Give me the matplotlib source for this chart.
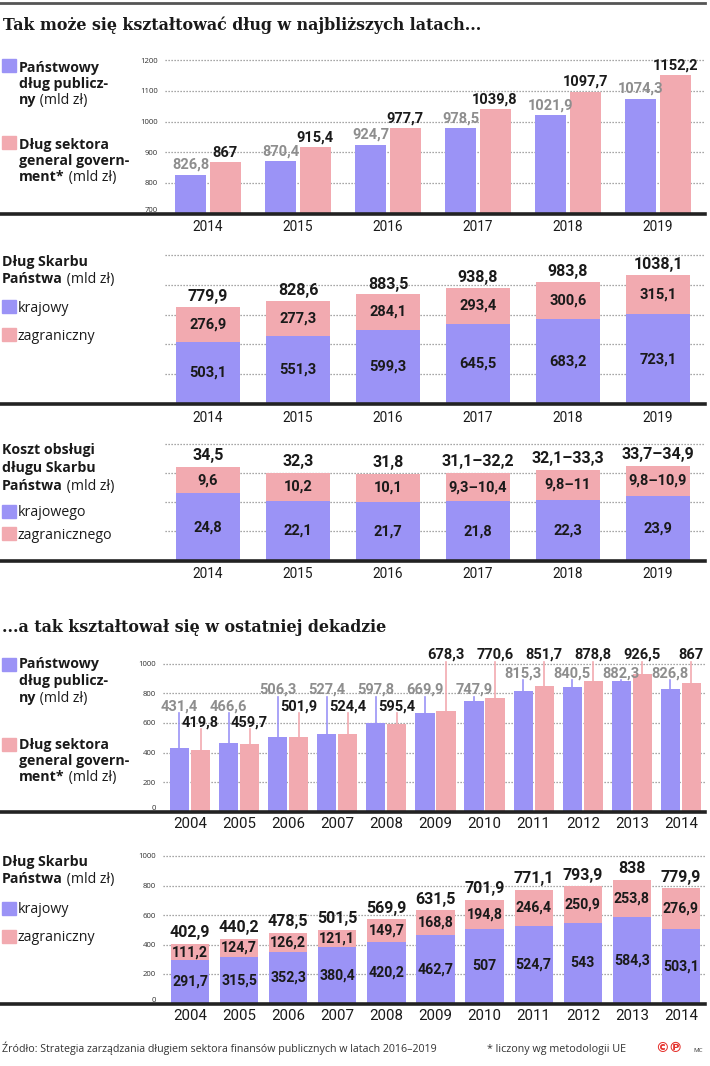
import matplotlib
matplotlib.use('Agg')
import matplotlib.pyplot as plt
from matplotlib.lines import Line2D
from matplotlib.patches import Rectangle

# --- data -------------------------------------------------------------
years_f = [2014, 2015, 2016, 2017, 2018, 2019]
pub_f = [826.8, 870.4, 924.7, 978.5, 1021.9, 1074.3]
gg_f = [867, 915.4, 977.7, 1039.8, 1097.7, 1152.2]
sk_kraj_f = [503.1, 551.3, 599.3, 645.5, 683.2, 723.1]
sk_zagr_f = [276.9, 277.3, 284.1, 293.4, 300.6, 315.1]
sk_tot_f = [779.9, 828.6, 883.5, 938.8, 983.8, 1038.1]
ko_kraj = [24.8, 22.1, 21.7, 21.8, 22.3, 23.9]
ko_zagr_lo = [9.6, 10.2, 10.1, 9.3, 9.8, 9.8]
ko_zagr_hi = [9.6, 10.2, 10.1, 10.4, 11, 10.9]
ko_tot_lo = [34.5, 32.3, 31.8, 31.1, 32.1, 33.7]
ko_tot_hi = [34.5, 32.3, 31.8, 32.2, 33.3, 34.9]

years_p = [2004, 2005, 2006, 2007, 2008, 2009, 2010, 2011, 2012, 2013, 2014]
pub_p = [431.4, 466.6, 506.3, 527.4, 597.8, 669.9, 747.9, 815.3, 840.5, 882.3, 826.8]
gg_p = [419.8, 459.7, 501.9, 524.4, 595.4, 678.3, 770.6, 851.7, 878.8, 926.5, 867]
kraj_p = [291.7, 315.5, 352.3, 380.4, 420.2, 462.7, 507, 524.7, 543, 584.3, 503.1]
zagr_p = [111.2, 124.7, 126.2, 121.1, 149.7, 168.8, 194.8, 246.4, 250.9, 253.8, 276.9]
tot_p = [402.9, 440.2, 478.5, 501.5, 569.9, 631.5, 701.9, 771.1, 793.9, 838, 779.9]

# label tiers for the decade chart (layout only)
tier_y = [601, 709, 822, 934, 1057]
tier_pub = [1, 1, 2, 2, 2, 2, 2, 3, 3, 3, 3]
tier_gg = [0, 0, 1, 1, 1, 4, 4, 4, 4, 4, 4]

BLUE = '#9b93f6'
PINK = '#f2aab0'
GREY = '#8e8e8e'
DARK = '#1a1a1a'
SANS = ['Open Sans', 'DejaVu Sans']
NUM = ['Roboto', 'DejaVu Sans']
LEG = 10.2

W, H = 710, 1066
fig = plt.figure(figsize=(W / 100, H / 100), dpi=100)
r = fig.canvas.get_renderer()


def fx(px):
    return px / W


def fy(py):
    return 1 - py / H


def pl(v):
    return ('%g' % v).replace('.', ',')


def add_ax(x0, x1, ytop, ybot):
    ax = fig.add_axes([fx(x0), fy(ybot), (x1 - x0) / W, (ybot - ytop) / H])
    for s in ax.spines.values():
        s.set_visible(False)
    ax.tick_params(length=0)
    ax.set_xticks([])
    ax.patch.set_alpha(0)
    return ax


def runs(x, y, parts, size=LEG, color=DARK):
    for s, w in parts:
        t = fig.text(fx(x), fy(y), s, fontsize=size, fontweight=w,
                     family=SANS, color=color, va='baseline')
        x += t.get_window_extent(r).width


def fit(t, width):
    bb = t.get_window_extent(r)
    t.set_fontsize(t.get_fontsize() * width / bb.width)


def square(x, y, c):
    fig.add_artist(Rectangle((fx(x), fy(y + 13)), 14 / W, 13 / H, color=c,
                             transform=fig.transFigure))


def baseline(y):
    fig.add_artist(Line2D([0, fx(705)], [fy(y), fy(y)], lw=2.6, color='#222',
                          transform=fig.transFigure, zorder=10))


def grid(ax, vals, labels=True):
    for v in vals:
        ax.axhline(v, color='#8a8a8a', lw=0.9, ls=(0, (1, 1.4)), zorder=0)
    ax.set_yticks(vals)
    if labels:
        ax.set_yticklabels([str(v) for v in vals], fontsize=5.6, color='#333', family=SANS)
        ax.tick_params(axis='y', pad=5)
        ax.get_yticklabels()[0].set_va('bottom')
    else:
        ax.set_yticklabels([])


# top rule
fig.add_artist(Line2D([0, fx(705)], [fy(3), fy(3)], lw=2, color='#555', transform=fig.transFigure))

t = fig.text(fx(3), fy(30), 'Tak może się kształtować dług w najbliższych latach...',
             fontsize=12, fontweight='bold', family=['DejaVu Serif'], color=DARK, va='baseline')
fit(t, 480)

# ---------------- panel 1 ----------------
ax1 = add_ax(165, 705, 48, 213.5)
ax1.set_xlim(-0.478, 5.522)
ax1.set_ylim(700, 1240)
grid(ax1, [700, 800, 900, 1000, 1100, 1200])
xs = range(len(years_f))
ax1.bar([i - 0.19 for i in xs], pub_f, width=0.345, color=BLUE, zorder=2)
ax1.bar([i + 0.19 for i in xs], gg_f, width=0.345, color=PINK, zorder=2)
for i in xs:
    ax1.annotate(pl(pub_f[i]), (i - 0.19, pub_f[i]), xytext=(0, 7), textcoords='offset points',
                 ha='center', va='center', fontsize=10.5, fontweight='bold', family=NUM, color=GREY)
    ax1.annotate(pl(gg_f[i]), (i + 0.19, gg_f[i]), xytext=(0, 7), textcoords='offset points',
                 ha='center', va='center', fontsize=10.5, fontweight='bold', family=NUM, color=DARK)
baseline(213.5)
for i, yr in enumerate(years_f):
    fig.text(fx(208 + 90 * i), fy(227), str(yr), fontsize=9.8, family=NUM, color=DARK,
             ha='center', va='center')

square(2, 59, BLUE)
runs(19, 72, [('Państwowy', 'bold')])
runs(19, 88, [('dług publicz-', 'bold')])
runs(19, 104, [('ny', 'bold'), (' (mld zł)', 'normal')])
square(2, 136, PINK)
runs(19, 149, [('Dług sektora', 'bold')])
runs(19, 165, [('general govern-', 'bold')])
runs(19, 181, [('ment*', 'bold'), (' (mld zł)', 'normal')])

# ---------------- panel 2 ----------------
ax2 = add_ax(165, 705, 245, 404)
ax2.set_xlim(-0.478, 5.522)
ax2.set_ylim(0, 1282)
grid(ax2, [240, 480, 720, 960, 1200], labels=False)
ax2.bar(xs, sk_kraj_f, width=0.71, color=BLUE, zorder=2)
ax2.bar(xs, sk_zagr_f, bottom=sk_kraj_f, width=0.71, color=PINK, zorder=2)
for i in xs:
    ax2.text(i, sk_kraj_f[i] / 2, pl(sk_kraj_f[i]), ha='center', va='center', fontsize=10.5,
             fontweight='bold', family=NUM, color=DARK)
    ax2.text(i, sk_kraj_f[i] + sk_zagr_f[i] / 2, pl(sk_zagr_f[i]), ha='center', va='center',
             fontsize=10.5, fontweight='bold', family=NUM, color=DARK)
    ax2.annotate(pl(sk_tot_f[i]), (i, sk_tot_f[i]), xytext=(0, 7.5), textcoords='offset points',
                 ha='center', va='center', fontsize=11.5, fontweight='bold', family=NUM, color=DARK)
baseline(404)
for i, yr in enumerate(years_f):
    fig.text(fx(208 + 90 * i), fy(418), str(yr), fontsize=9.8, family=NUM, color=DARK,
             ha='center', va='center')
runs(2, 266, [('Dług Skarbu', 'bold')])
runs(2, 283, [('Państwa', 'bold'), (' (mld zł)', 'normal')])
square(2, 300, BLUE)
runs(18, 312, [('krajowy', 'normal')])
square(2, 328, PINK)
runs(18, 340, [('zagraniczny', 'normal')])

# ---------------- panel 3 ----------------
ax3 = add_ax(165, 705, 438, 561)
ax3.set_xlim(-0.478, 5.522)
ax3.set_ylim(0, 45)
grid(ax3, [11.0, 21.6, 32.2, 42.8], labels=False)
ax3.bar(xs, ko_kraj, width=0.71, color=BLUE, zorder=2)
ax3.bar(xs, ko_zagr_hi, bottom=ko_kraj, width=0.71, color=PINK, zorder=2)
for i in xs:
    zl = pl(ko_zagr_lo[i]) if ko_zagr_lo[i] == ko_zagr_hi[i] else pl(ko_zagr_lo[i]) + '–' + pl(ko_zagr_hi[i])
    tl = pl(ko_tot_lo[i]) if ko_tot_lo[i] == ko_tot_hi[i] else pl(ko_tot_lo[i]) + '–' + pl(ko_tot_hi[i])
    ax3.text(i, ko_kraj[i] / 2, pl(ko_kraj[i]), ha='center', va='center', fontsize=10.5,
             fontweight='bold', family=NUM, color=DARK)
    ax3.text(i, ko_kraj[i] + ko_zagr_hi[i] / 2, zl, ha='center', va='center', fontsize=10.5,
             fontweight='bold', family=NUM, color=DARK)
    ax3.annotate(tl, (i, ko_kraj[i] + ko_zagr_hi[i]), xytext=(0, 8), textcoords='offset points',
                 ha='center', va='center', fontsize=11.5, fontweight='bold', family=NUM, color=DARK)
baseline(561)
for i, yr in enumerate(years_f):
    fig.text(fx(208 + 90 * i), fy(574), str(yr), fontsize=9.8, family=NUM, color=DARK,
             ha='center', va='center')
runs(2, 454, [('Koszt obsługi', 'bold')])
runs(2, 472, [('długu Skarbu', 'bold')])
runs(2, 490, [('Państwa', 'bold'), (' (mld zł)', 'normal')])
square(2, 505, BLUE)
runs(18, 516, [('krajowego', 'normal')])
square(2, 527, PINK)
runs(18, 539, [('zagranicznego', 'normal')])

# ---------------- panel 4 ----------------
t = fig.text(fx(2), fy(632), '...a tak kształtował się w ostatniej dekadzie',
             fontsize=12, fontweight='bold', family=['DejaVu Serif'], color=DARK, va='baseline')
fit(t, 384)
xp = range(len(years_p))
ax4 = add_ax(163, 705, 640, 812)
ax4.set_xlim(-0.55, 10.49)
ax4.set_ylim(0, (812 - 640) / 0.1485)
grid(ax4, [0, 200, 400, 600, 800, 1000])
ax4.bar([i - 0.214 for i in xp], pub_p, width=0.39, color=BLUE, zorder=2)
ax4.bar([i + 0.214 for i in xp], gg_p, width=0.39, color=PINK, zorder=2)
for i in xp:
    for dx, v, tier, col, tcol in [(-0.214, pub_p[i], tier_pub[i], BLUE, GREY),
                                   (0.214, gg_p[i], tier_gg[i], PINK, DARK)]:
        ly = tier_y[tier]
        if ly - 45 > v:
            ax4.plot([i + dx, i + dx], [v, ly - 45], color=col, lw=1.2, zorder=1)
        ax4.text(i + dx, ly, pl(v), ha='center', va='center', fontsize=10.5,
                 fontweight='bold', family=NUM, color=tcol, zorder=3)
baseline(812)
for i, yr in enumerate(years_p):
    fig.text(fx(190 + 49.1 * i), fy(824), str(yr), fontsize=10.8, family=NUM, color=DARK,
             ha='center', va='center')
square(2, 658, BLUE)
runs(19, 668, [('Państwowy', 'bold')])
runs(19, 685, [('dług publicz-', 'bold')])
runs(19, 702, [('ny', 'bold'), (' (mld zł)', 'normal')])
square(2, 738, PINK)
runs(19, 749, [('Dług sektora', 'bold')])
runs(19, 765, [('general govern-', 'bold')])
runs(19, 781, [('ment*', 'bold'), (' (mld zł)', 'normal')])

# ---------------- panel 5 ----------------
ax5 = add_ax(163, 705, 848, 1003.5)
ax5.set_xlim(-0.55, 10.49)
ax5.set_ylim(0, (1003.5 - 848) / 0.1475)
grid(ax5, [0, 200, 400, 600, 800, 1000])
ax5.bar(xp, kraj_p, width=0.78, color=BLUE, zorder=2)
ax5.bar(xp, zagr_p, bottom=kraj_p, width=0.78, color=PINK, zorder=2)
for i in xp:
    ax5.text(i, kraj_p[i] / 2, pl(kraj_p[i]), ha='center', va='center', fontsize=10.2,
             fontweight='bold', family=NUM, color=DARK)
    ax5.text(i, kraj_p[i] + zagr_p[i] / 2, pl(zagr_p[i]), ha='center', va='center',
             fontsize=10.2, fontweight='bold', family=NUM, color=DARK)
    ax5.annotate(pl(tot_p[i]), (i, tot_p[i]), xytext=(0, 8), textcoords='offset points',
                 ha='center', va='center', fontsize=11.5, fontweight='bold', family=NUM, color=DARK)
baseline(1003.5)
for i, yr in enumerate(years_p):
    fig.text(fx(190 + 49.1 * i), fy(1016), str(yr), fontsize=10.8, family=NUM, color=DARK,
             ha='center', va='center')
runs(2, 866, [('Dług Skarbu', 'bold')])
runs(2, 883, [('Państwa', 'bold'), (' (mld zł)', 'normal')])
square(2, 902, BLUE)
runs(18, 913, [('krajowy', 'normal')])
square(2, 930, PINK)
runs(18, 941, [('zagraniczny', 'normal')])

# footer
t = fig.text(fx(2), fy(1052), 'Źródło: Strategia zarządzania długiem sektora finansów publicznych w latach 2016–2019',
             fontsize=7, family=SANS, color='#333', va='baseline')
fit(t, 441)
t = fig.text(fx(487), fy(1052), '* liczony wg metodologii UE', fontsize=7, family=SANS,
             color='#333', va='baseline')
fit(t, 140)
fig.text(fx(655), fy(1052), '©℗', fontsize=10, fontweight='bold', family=['DejaVu Sans'],
         color='#e5322d', va='baseline')
fig.text(fx(693), fy(1052), 'MC', fontsize=4.5, family=SANS, color='#333', va='baseline')

fig.savefig('out.png', dpi=100)
